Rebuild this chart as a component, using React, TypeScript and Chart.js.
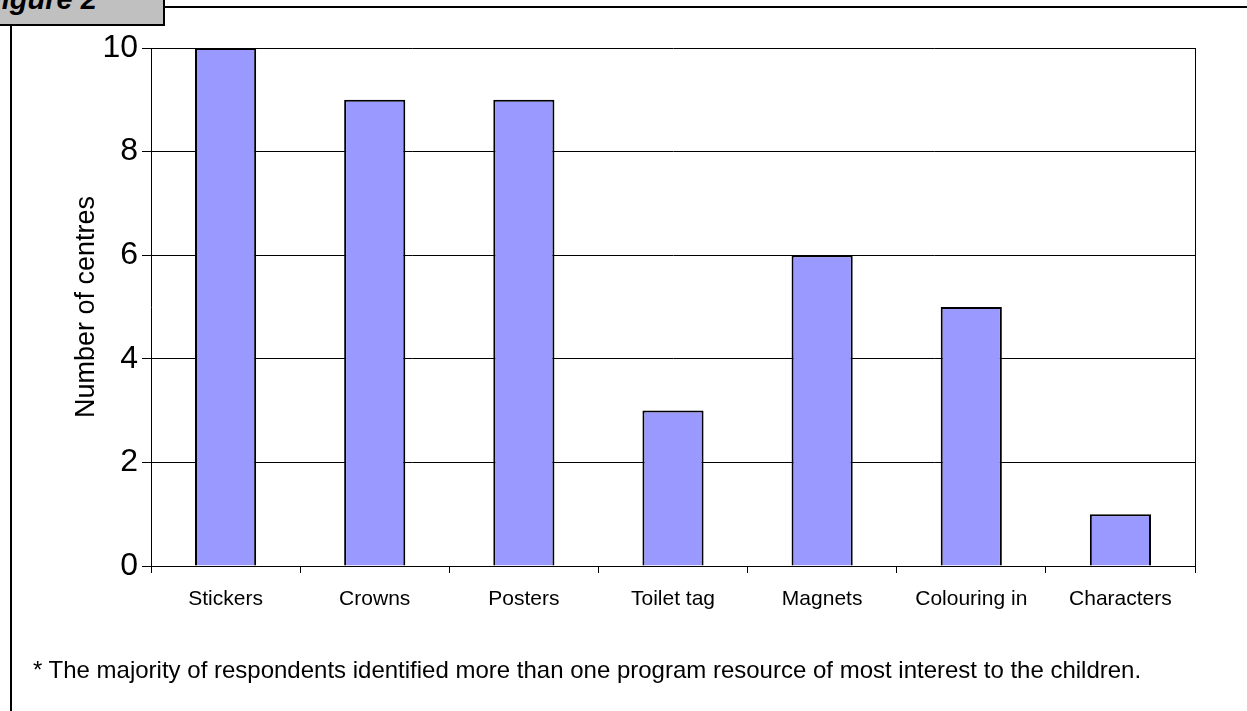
import React, { useEffect, useRef } from "react";
import { Chart, registerables } from "chart.js";

Chart.register(...registerables);

const categories = ["Stickers", "Crowns", "Posters", "Toilet tag", "Magnets", "Colouring in", "Characters"];
const centres = [10, 9, 9, 3, 6, 5, 1];
const yTicks = [0, 2, 4, 6, 8, 10];
const figureLabel = "Figure 2";
const yTitle = "Number of centres";
const footnote = "* The majority of respondents identified more than one program resource of most interest to the children.";

const FONT = "'Liberation Sans', Arial, Helvetica, sans-serif";

const frameRight = {
  id: "frameRight",
  afterDatasetsDraw(chart: any) {
    const { ctx, chartArea } = chart;
    ctx.save();
    ctx.strokeStyle = "#000";
    ctx.lineWidth = 1;
    ctx.beginPath();
    const x = Math.round(chartArea.right) + 0.5;
    ctx.moveTo(x, chartArea.top);
    ctx.lineTo(x, chartArea.bottom);
    ctx.stroke();
    ctx.restore();
  },
};

export default function App() {
  const ref = useRef<HTMLCanvasElement>(null);
  useEffect(() => {
    if (!ref.current) return;
    const chart = new Chart(ref.current, {
      type: "bar",
      data: {
        labels: categories,
        datasets: [
          {
            data: centres,
            backgroundColor: "#9999FF",
            borderColor: "#000000",
            borderWidth: 2,
            categoryPercentage: 1,
            barPercentage: 0.41,
          },
        ],
      },
      options: {
        responsive: false,
        animation: false,
        layout: { padding: { left: 66, top: 48, right: 52, bottom: 0 } },
        plugins: { legend: { display: false }, tooltip: { enabled: false } },
        scales: {
          x: {
            afterFit: (s: any) => { s.height = 145; },
            grid: { offset: true, drawOnChartArea: false, drawTicks: true, tickLength: 7, color: "#000", lineWidth: 1 },
            border: { display: true, color: "#000", width: 1 },
            ticks: { color: "#000", font: { family: FONT, size: 21 }, padding: 14, maxRotation: 0, autoSkip: false },
          },
          y: {
            min: 0,
            max: 10,
            afterFit: (s: any) => { s.width = 151 - 66; },
            afterBuildTicks: (s: any) => { s.ticks = yTicks.map((v) => ({ value: v })); },
            grid: { drawOnChartArea: true, drawTicks: true, tickLength: 9, color: "#000", lineWidth: 1 },
            border: { display: true, color: "#000", width: 1 },
            ticks: { color: "#000", font: { family: FONT, size: 32 }, padding: 4 },
            title: { display: true, text: yTitle, color: "#000", font: { family: FONT, size: 27 }, padding: 4 },
          },
        },
      },
      plugins: [frameRight],
    });
    return () => chart.destroy();
  }, []);

  return (
    <div style={{ position: "fixed", left: 0, top: 0, width: 1247, height: 711, background: "#fff", overflow: "hidden", fontFamily: FONT }}>
      <canvas ref={ref} width={1247} height={711} style={{ position: "absolute", left: 0, top: 0 }} />
      <div style={{ position: "absolute", left: 165, top: 6, width: 1082, height: 2, background: "#000" }} />
      <div style={{ position: "absolute", left: 10, top: 26, width: 2, height: 685, background: "#000" }} />
      <div style={{ position: "absolute", left: -4, top: -4, width: 165, height: 26, background: "#C0C0C0", border: "2px solid #000", overflow: "hidden" }}>
        <div style={{ position: "absolute", left: -14, top: -16, fontSize: 29, fontWeight: "bold", fontStyle: "italic", lineHeight: "34px", whiteSpace: "nowrap", color: "#000" }}>{figureLabel}</div>
      </div>
      <div style={{ position: "absolute", left: 33, top: 656, fontSize: 24, lineHeight: "28px", whiteSpace: "nowrap", color: "#000" }}>{footnote}</div>
    </div>
  );
}
